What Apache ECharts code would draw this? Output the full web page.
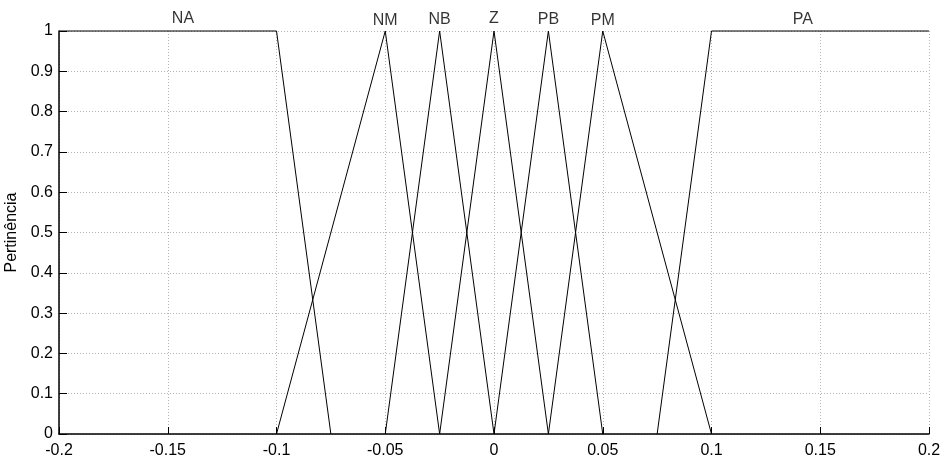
<!DOCTYPE html>
<html>
<head>
<meta charset="utf-8">
<script src="https://cdn.jsdelivr.net/npm/echarts@6/dist/echarts.min.js"></script>
<style>html,body{margin:0;padding:0;background:#fff}#c{width:941px;height:463px}</style>
</head>
<body>
<div id="c"></div>
<script>
// Membership function breakpoints (x) and membership values (y)
const mfNames = ['NA', 'NM', 'NB', 'Z', 'PB', 'PM', 'PA'];
const mfX = [
  [-0.2, -0.1, -0.075],
  [-0.1, -0.05, -0.025],
  [-0.05, -0.025, 0],
  [-0.025, 0, 0.025],
  [0, 0.025, 0.05],
  [0.025, 0.05, 0.1],
  [0.075, 0.1, 0.2]
];
const mfY = [
  [1, 1, 0],
  [0, 1, 0],
  [0, 1, 0],
  [0, 1, 0],
  [0, 1, 0],
  [0, 1, 0],
  [0, 1, 1]
];
// Label anchor positions (in data units)
const labelX = [-0.143, -0.05, -0.025, 0, 0.025, 0.05, 0.142];
const labelY = [1.030, 1.025, 1.0285, 1.032, 1.0285, 1.026, 1.028];

const xTicks = [-0.2, -0.15, -0.1, -0.05, 0, 0.05, 0.1, 0.15, 0.2];
const yTicks = [0, 0.1, 0.2, 0.3, 0.4, 0.5, 0.6, 0.7, 0.8, 0.9, 1];

const FONT = '"Liberation Sans", Arial, sans-serif';
const FS = 16;
const chart = echarts.init(document.getElementById('c'), null, {renderer: 'canvas'});

const series = mfNames.map((n, i) => ({
  type: 'line',
  name: n,
  data: mfX[i].map((x, j) => [x, mfY[i][j]]),
  showSymbol: false,
  symbol: 'none',
  clip: false,
  lineStyle: {color: '#000', width: 1},
  animation: false,
  silent: true,
  z: 5
}));
series.push({
  type: 'scatter',
  data: mfNames.map((n, i) => ({name: n, value: [labelX[i], labelY[i]]})),
  symbolSize: 0,
  clip: false,
  silent: true,
  animation: false,
  label: {
    show: true,
    position: 'inside',
    formatter: p => p.name,
    color: '#000',
    fontSize: FS,
    fontFamily: FONT
  }
});

const gridLine = {show: true, lineStyle: {color: '#b4b4b4', type: [1, 2], width: 1}};

chart.setOption({
  animation: false,
  backgroundColor: '#fff',
  grid: {left: 59, right: 12, top: 31, bottom: 29, containLabel: false, outerBoundsMode: 'none'},
  xAxis: {
    type: 'value',
    min: xTicks[0],
    max: xTicks[xTicks.length - 1],
    interval: 0.05,
    axisLine: {show: true, onZero: false, lineStyle: {color: '#000', width: 1.5}},
    axisTick: {show: true, inside: true, length: 7, lineStyle: {color: '#000'}},
    axisLabel: {color: '#000', fontSize: FS, fontFamily: FONT, margin: 9,
      formatter: v => String(Math.round(v * 1000) / 1000)},
    splitLine: gridLine
  },
  yAxis: {
    type: 'value',
    min: yTicks[0],
    max: yTicks[yTicks.length - 1],
    interval: 0.1,
    name: 'Pertinência',
    nameLocation: 'middle',
    nameGap: 31,
    nameTextStyle: {color: '#000', fontSize: FS, fontFamily: FONT},
    axisLine: {show: true, onZero: false, lineStyle: {color: '#000', width: 1.5}},
    axisTick: {show: true, inside: true, length: 8, lineStyle: {color: '#000'}},
    axisLabel: {color: '#000', fontSize: FS, fontFamily: FONT, margin: 6,
      formatter: v => String(Math.round(v * 10) / 10)},
    splitLine: gridLine
  },
  series: series
});
</script>
</body>
</html>
